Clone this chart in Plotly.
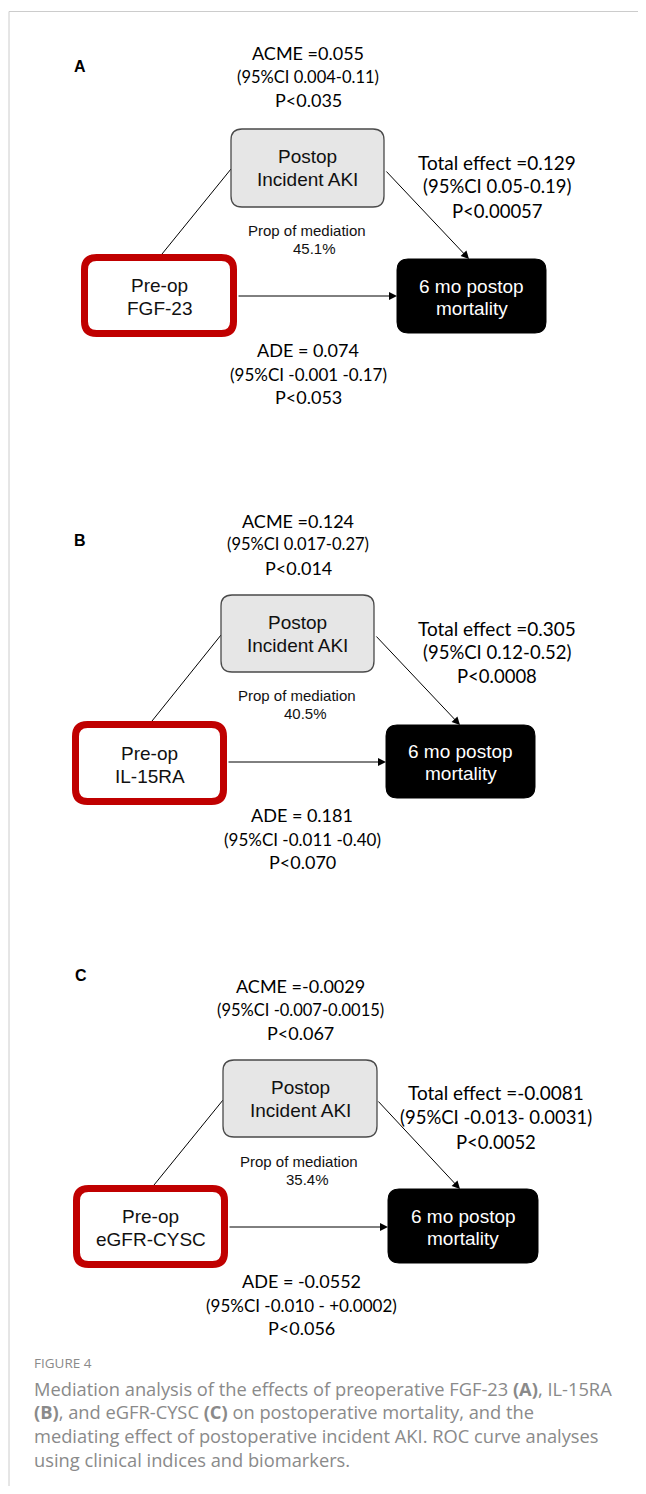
import plotly.graph_objects as go

# ---------------- data (texts) ----------------
panel_letters = ["A", "B", "C"]
exposures = [["Pre-op", "FGF-23"], ["Pre-op", "IL-15RA"], ["Pre-op", "eGFR-CYSC"]]
mediator = ["Postop", "Incident AKI"]
outcome = ["6 mo postop", "mortality"]
acme_values = ["ACME =0.055", "ACME =0.124", "ACME =-0.0029"]
acme_ci = ["(95%CI 0.004-0.11)", "(95%CI 0.017-0.27)", "(95%CI -0.007-0.0015)"]
acme_p = ["P<0.035", "P<0.014", "P<0.067"]
total_values = ["Total effect =0.129", "Total effect =0.305", "Total effect =-0.0081"]
total_ci = ["(95%CI 0.05-0.19)", "(95%CI 0.12-0.52)", "(95%CI -0.013- 0.0031)"]
total_p = ["P<0.00057", "P<0.0008", "P<0.0052"]
prop_label = "Prop of mediation"
prop_mediation = ["45.1%", "40.5%", "35.4%"]
ade_values = ["ADE = 0.074", "ADE = 0.181", "ADE = -0.0552"]
ade_ci = ["(95%CI -0.001 -0.17)", "(95%CI -0.011 -0.40)", "(95%CI -0.010 - +0.0002)"]
ade_p = ["P<0.053", "P<0.070", "P<0.056"]
caption_title = "FIGURE 4"
caption_lines = [
    "Mediation analysis of the effects of preoperative FGF-23 <b>(A)</b>, IL-15RA",
    "<b>(B)</b>, and eGFR-CYSC <b>(C)</b> on postoperative mortality, and the",
    "mediating effect of postoperative incident AKI. ROC curve analyses",
    "using clinical indices and biomarkers.",
]

# ---------------- geometry (page pixel positions, separate from data) ----------------
GEOM = [
    dict(letter=(80, 66), acme=(308, [53, 77, 100]), total=(497, [162, 186, 211]),
         prop=(307, 230, 314, 248), ade=(308, [350, 374, 397]),
         med=(231, 129, 384, 207), exp=(81, 254, 237, 337), out=(397, 259, 546, 333),
         line1=((162, 254), (231, 169)), arrow1=((385, 170), (469, 259)), hy=296),
    dict(letter=(80, 540), acme=(298, [521, 544, 568]), total=(497, [628, 652, 676]),
         prop=(297, 695, 305, 713), ade=(302, [815, 839, 862]),
         med=(221, 595, 374, 672), exp=(72, 721, 227, 805), out=(386, 725, 535, 798),
         line1=((152, 721), (221, 635)), arrow1=((375, 635), (460, 725)), hy=762),
    dict(letter=(81, 975), acme=(300, [986, 1010, 1033]), total=(496, [1092, 1117, 1142]),
         prop=(299, 1161, 307, 1179), ade=(301, [1281, 1305, 1328]),
         med=(223, 1060, 377, 1137), exp=(73, 1185, 228, 1268), out=(388, 1189, 538, 1263),
         line1=((154, 1185), (223, 1100)), arrow1=((377, 1100), (460, 1189)), hy=1227),
]

PAGE_W, PAGE_H = 646, 1494
BODY = 8  # default page body margin of the html file
FIG_W, FIG_H = PAGE_W - 2 * BODY, PAGE_H - 2 * BODY
STAT_FONT = "Lato, 'Open Sans', sans-serif"
NODE_FONT = "Arial, 'Liberation Sans', sans-serif"
CAP_FONT = "'Open Sans', sans-serif"


def rrect(x0, y0, x1, y1, r):
    return (f"M {x0+r},{y0} L {x1-r},{y0} Q {x1},{y0} {x1},{y0+r} "
            f"L {x1},{y1-r} Q {x1},{y1} {x1-r},{y1} L {x0+r},{y1} "
            f"Q {x0},{y1} {x0},{y1-r} L {x0},{y0+r} Q {x0},{y0} {x0+r},{y0} Z")


fig = go.Figure()
fig.add_trace(go.Scatter(x=[BODY, PAGE_W - BODY], y=[BODY, PAGE_H - BODY], mode="markers",
                         marker=dict(opacity=0), hoverinfo="skip", showlegend=False))

shapes = []
ann = []


def txt(x, y, s, size, family=STAT_FONT, color="#000", anchor="center"):
    ann.append(dict(x=x, y=y, xref="x", yref="y", text=s, showarrow=False,
                    xanchor=anchor, yanchor="middle",
                    font=dict(family=family, size=size, color=color)))


# page frame
shapes.append(dict(type="line", x0=9, y0=11.5, x1=PAGE_W, y1=11.5, xref="x", yref="y",
                   line=dict(color="#cccccc", width=1)))
shapes.append(dict(type="line", x0=9, y0=11.5, x1=9, y1=PAGE_H, xref="x", yref="y",
                   line=dict(color="#cccccc", width=1)))

for i, g in enumerate(GEOM):
    txt(g["letter"][0], g["letter"][1], f"<b>{panel_letters[i]}</b>", 16, NODE_FONT)

    (ax0, ay0), (ax1, ay1) = g["line1"]
    shapes.append(dict(type="line", x0=ax0, y0=ay0, x1=ax1, y1=ay1, xref="x", yref="y",
                       line=dict(color="#000", width=1)))
    (bx0, by0), (bx1, by1) = g["arrow1"]
    ann.append(dict(x=bx1, y=by1, ax=bx0, ay=by0, xref="x", yref="y", axref="x", ayref="y",
                    text="", showarrow=True, arrowhead=2, arrowsize=1.6, arrowwidth=1,
                    arrowcolor="#000", standoff=0, startstandoff=0))
    ex0, ey0, ex1, ey1 = g["exp"]
    ox0, oy0, ox1, oy1 = g["out"]
    ann.append(dict(x=ox0, y=g["hy"], ax=ex1, ay=g["hy"], xref="x", yref="y", axref="x", ayref="y",
                    text="", showarrow=True, arrowhead=2, arrowsize=1.6, arrowwidth=1,
                    arrowcolor="#000", standoff=0, startstandoff=0))

    mx0, my0, mx1, my1 = g["med"]
    shapes.append(dict(type="path", path=rrect(mx0, my0, mx1, my1, 11), xref="x", yref="y",
                       fillcolor="#e6e6e6", line=dict(color="#4a4a4a", width=1.3)))
    mcx, mcy = (mx0 + mx1) / 2, (my0 + my1) / 2
    txt(mcx, mcy - 11.5, mediator[0], 19, NODE_FONT, "#111")
    txt(mcx, mcy + 11.5, mediator[1], 19, NODE_FONT, "#111")

    bw = 7
    shapes.append(dict(type="path",
                       path=rrect(ex0 + bw / 2, ey0 + bw / 2, ex1 - bw / 2, ey1 - bw / 2, 12),
                       xref="x", yref="y", fillcolor="#ffffff",
                       line=dict(color="#c00000", width=bw)))
    ecx, ecy = (ex0 + ex1) / 2, (ey0 + ey1) / 2
    txt(ecx, ecy - 10, exposures[i][0], 19, NODE_FONT, "#111")
    txt(ecx, ecy + 13, exposures[i][1], 19, NODE_FONT, "#111")

    shapes.append(dict(type="path", path=rrect(ox0, oy0, ox1, oy1, 11), xref="x", yref="y",
                       fillcolor="#000000", line=dict(color="#000000", width=1)))
    ocx, ocy = (ox0 + ox1) / 2, (oy0 + oy1) / 2
    txt(ocx, ocy - 10, outcome[0], 19, NODE_FONT, "#ffffff")
    txt(ocx, ocy + 12, outcome[1], 19, NODE_FONT, "#ffffff")

    cx, ys = g["acme"]
    txt(cx, ys[0], acme_values[i], 18)
    txt(cx, ys[1], acme_ci[i], 16.5)
    txt(cx, ys[2], acme_p[i], 18)

    cx, ys = g["total"]
    txt(cx, ys[0], total_values[i], 19)
    txt(cx, ys[1], total_ci[i], 18.5)
    txt(cx, ys[2], total_p[i], 18.5)

    px, py, p2x, p2y = g["prop"]
    txt(px, py, prop_label, 15, NODE_FONT, "#111")
    txt(p2x, p2y, prop_mediation[i], 15, NODE_FONT, "#111")

    cx, ys = g["ade"]
    txt(cx, ys[0], ade_values[i], 18)
    txt(cx, ys[1], ade_ci[i], 17)
    txt(cx, ys[2], ade_p[i], 18)

txt(32, 1363, caption_title, 13.5, CAP_FONT, "#8a8a8a", anchor="left")
for k, line in enumerate(caption_lines):
    txt(32, 1388 + k * 23.7, line, 18.3, CAP_FONT, "#8a8a8a", anchor="left")

fig.update_layout(
    width=FIG_W, height=FIG_H,
    margin=dict(l=0, r=0, t=0, b=0),
    paper_bgcolor="#ffffff", plot_bgcolor="#ffffff",
    xaxis=dict(range=[BODY, PAGE_W - BODY], visible=False, fixedrange=True),
    yaxis=dict(range=[PAGE_H - BODY, BODY], visible=False, fixedrange=True),
    shapes=shapes, annotations=ann, showlegend=False,
)

fig.write_html("out.html")
